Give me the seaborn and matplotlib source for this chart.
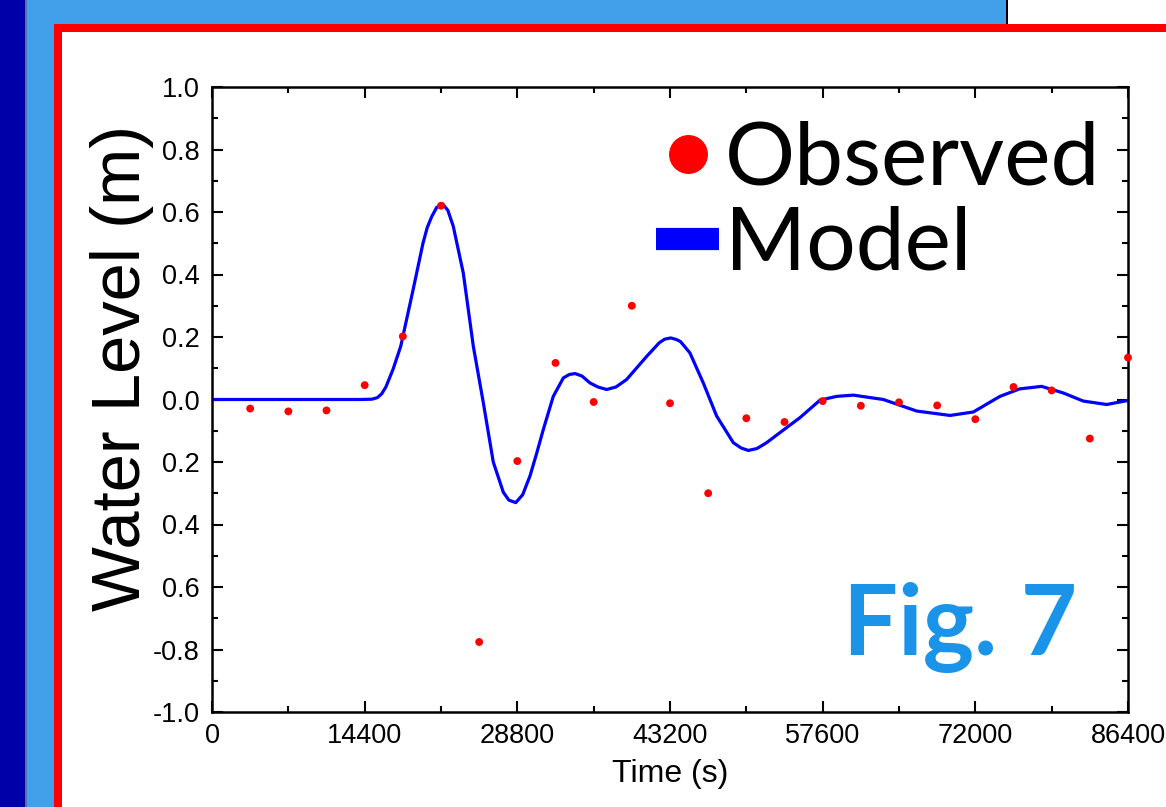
import matplotlib
matplotlib.use("Agg")
import matplotlib.pyplot as plt
from matplotlib.patches import Rectangle
from matplotlib.lines import Line2D
from matplotlib.ticker import MultipleLocator, FixedLocator, FixedFormatter
import seaborn as sns
import pandas as pd

# ---------------- data ----------------
obs_time = [3600, 7200, 10800, 14400, 18000, 21600, 25200, 28800, 32400, 36000,
            39600, 43200, 46800, 50400, 54000, 57600, 61200, 64800, 68400, 72000,
            75600, 79200, 82800, 86400]
obs_level = [-0.029, -0.038, -0.035, 0.046, 0.202, 0.62, -0.776, -0.197, 0.117, -0.008,
             0.30, -0.012, -0.30, -0.06, -0.072, -0.005, -0.02, -0.009, -0.019, -0.063,
             0.04, 0.029, -0.125, 0.134]

model_time = [0, 5000, 10000, 14000, 15090, 15600, 16000, 16400, 17070, 17800, 18960,
              19900, 20300, 20720, 21200, 21760, 22250, 22760, 23700, 24650, 25590, 26530,
              27480, 28000, 28650, 29300, 29990, 30600, 31250, 32190, 33140, 33700, 34240,
              34900, 35650, 36400, 37230, 38100, 39110, 41000, 42200, 42700, 43260, 43800,
              44200, 45080, 46340, 47600, 49170, 49900, 50580, 51400, 52320, 53570, 55460,
              57350, 58920, 60490, 63320, 66470, 69610, 71810, 74320, 76180, 78250, 80290,
              82180, 84390, 86400]
model_level = [0.0, 0.0, 0.0, 0.0, 0.001, 0.006, 0.018, 0.04, 0.096, 0.17, 0.35,
               0.50, 0.55, 0.585, 0.615, 0.626, 0.605, 0.554, 0.405, 0.17, -0.01, -0.20,
               -0.297, -0.322, -0.33, -0.305, -0.245, -0.175, -0.096, 0.01, 0.069, 0.080,
               0.083, 0.075, 0.053, 0.040, 0.032, 0.040, 0.064, 0.138, 0.182, 0.193, 0.197,
               0.192, 0.185, 0.149, 0.053, -0.053, -0.138, -0.155, -0.163, -0.157, -0.138,
               -0.106, -0.058, -0.002, 0.01, 0.014, 0.0, -0.037, -0.051, -0.04, 0.01, 0.034,
               0.042, 0.021, -0.005, -0.016, -0.003]

x_ticks = [0, 14400, 28800, 43200, 57600, 72000, 86400]
x_tick_labels = ["0", "14400", "28800", "43200", "57600", "72000", "86400"]
y_ticks = [-1.0, -0.8, -0.6, -0.4, -0.2, 0.0, 0.2, 0.4, 0.6, 0.8, 1.0]
y_tick_labels = ["-1.0", "-0.8", "0.6", "0.4", "0.2", "0.0", "0.2", "0.4", "0.6", "0.8", "1.0"]

obs_df = pd.DataFrame({"Time (s)": obs_time, "Water Level (m)": obs_level})
model_df = pd.DataFrame({"Time (s)": model_time, "Water Level (m)": model_level})

# ---------------- figure ----------------
sns.set_theme(style="ticks")
plt.rcParams["font.family"] = ["Liberation Sans", "DejaVu Sans"]
plt.rcParams["text.color"] = "black"

W, H = 1166, 807
fig = plt.figure(figsize=(W / 100, H / 100), dpi=100, facecolor="white")


def rect(x0, y0, x1, y1, color, z=0):
    fig.patches.append(Rectangle((x0 / W, 1 - y1 / H), (x1 - x0) / W, (y1 - y0) / H,
                                 transform=fig.transFigure, facecolor=color,
                                 edgecolor="none", zorder=z))


rect(26, 0, 54, H, "#42A0EA")
rect(26, 0, 1006, 24, "#42A0EA")
rect(0, 0, 25, H, "#0000A8")
rect(25, 0, 27, H, "#5872A8")
rect(1005.5, 0, 1008, 24, "black")
rect(54, 24, W, 32, "#FF0000")
rect(54, 24, 62, H, "#FF0000")

ax = fig.add_axes([212 / W, 1 - 712 / H, 916 / W, 625 / H])
ax.set_facecolor("white")

sns.lineplot(data=model_df, x="Time (s)", y="Water Level (m)", ax=ax,
             color="#0000FF", linewidth=2.3, sort=False, zorder=2)
ax.lines[-1].set_solid_joinstyle("round")
sns.scatterplot(data=obs_df, x="Time (s)", y="Water Level (m)", ax=ax,
                color="#FF0000", s=32, edgecolor="none", zorder=3, clip_on=False)

ax.set_xlim(0, 86400)
ax.set_ylim(-1.0, 1.0)
ax.xaxis.set_major_locator(FixedLocator(x_ticks))
ax.xaxis.set_major_formatter(FixedFormatter(x_tick_labels))
ax.xaxis.set_minor_locator(MultipleLocator(7200))
ax.yaxis.set_major_locator(FixedLocator(y_ticks))
ax.yaxis.set_major_formatter(FixedFormatter(y_tick_labels))
ax.yaxis.set_minor_locator(MultipleLocator(0.1))

for s in ax.spines.values():
    s.set_visible(True)
    s.set_linewidth(1.8)
    s.set_color("black")

ax.tick_params(which="both", direction="in", top=True, right=True, color="black",
               width=1.5, labelsize=19.5, labelcolor="black")
ax.tick_params(which="major", length=8)
ax.tick_params(axis="x", which="major", pad=8)
ax.tick_params(axis="y", which="major", pad=9)
ax.tick_params(which="minor", length=4.5)

ax.set_xlabel("Time (s)", fontsize=23, color="black", labelpad=7)
ax.set_ylabel("Water Level (m)", fontsize=49.5, color="black")
ax.yaxis.set_label_coords(-0.063, 0.55)

# legend
handles = [Line2D([], [], marker="o", linestyle="", color="#FF0000", markersize=27),
           Line2D([], [], color="#0000FF", linewidth=16, solid_capstyle="butt")]
leg = ax.legend(handles, ["Observed", "Model"], loc="upper right",
                bbox_to_anchor=(0.97, 0.947), frameon=False,
                prop={"family": "Lato", "size": 63}, handlelength=0.72,
                handletextpad=0.07, labelspacing=0.07, borderaxespad=0.0,
                borderpad=0.0)
for t in leg.get_texts():
    t.set_color("black")

ax.text(0.945, 0.091, "Fig. 7", transform=ax.transAxes, ha="right", va="baseline",
        fontsize=70, fontweight="bold", family="Lato", color="#1A94E8")

fig.savefig("out.png", dpi=100, facecolor="white")
